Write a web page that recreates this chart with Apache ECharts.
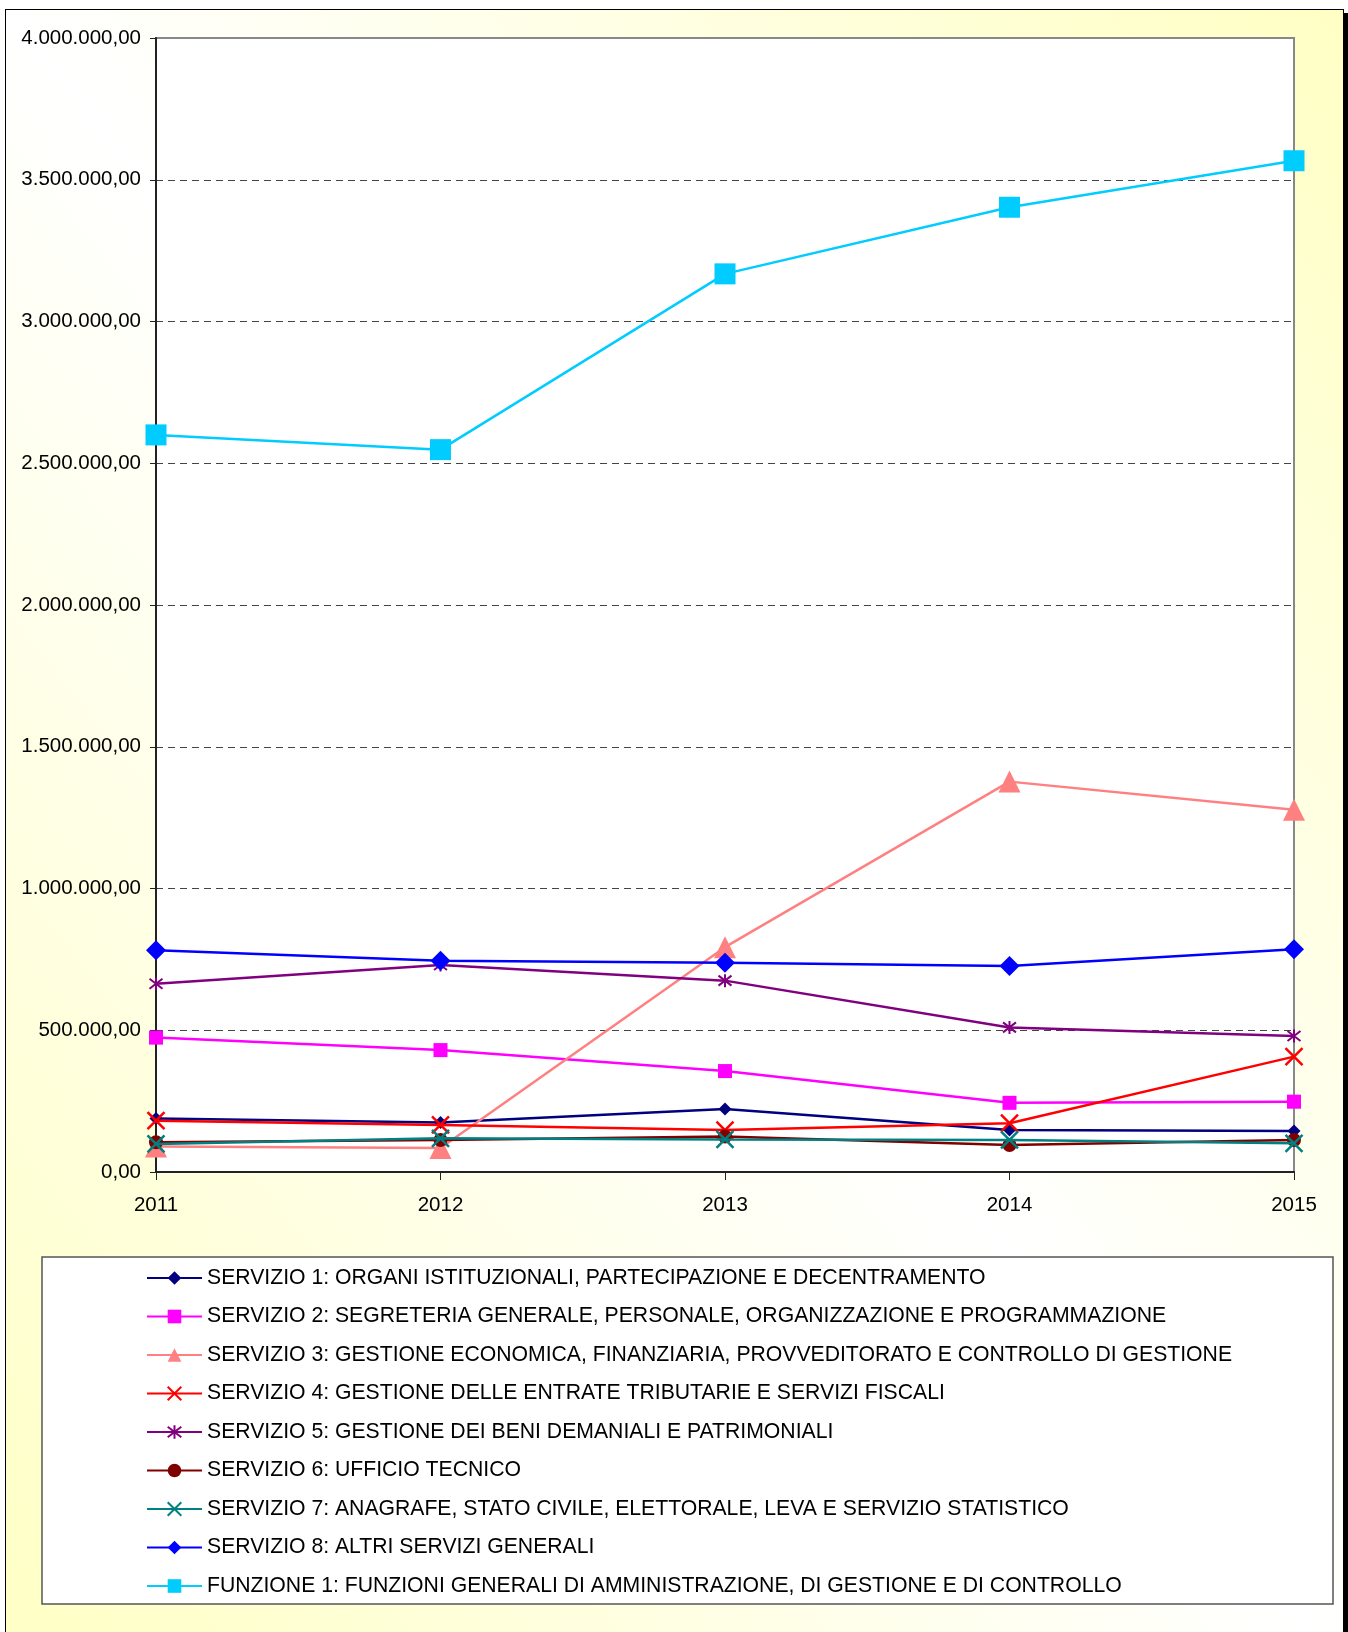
<!DOCTYPE html>
<html>
<head>
<meta charset="utf-8">
<script src="https://cdn.jsdelivr.net/npm/echarts@6/dist/echarts.min.js"></script>
<style>
  html, body { margin: 0; padding: 0; width: 1348px; height: 1632px; overflow: hidden; background: #ffffff; }
  #frame { position: absolute; left: 5px; top: 9px; width: 1337px; height: 1660px;
           border: 1.5px solid #000; box-shadow: 4px 4px 0 #000;
           background: linear-gradient(to top right, #ffffc4 0%, #ffffff 50%, #ffffc4 100%); }
  #chart { position: absolute; left: 0; top: 0; width: 1348px; height: 1632px; }
</style>
</head>
<body>
<div id="frame"></div>
<div id="chart"></div>
<script>
// ---- data ----
const years = ['2011', '2012', '2013', '2014', '2015'];
const names = [
  'SERVIZIO 1: ORGANI ISTITUZIONALI, PARTECIPAZIONE E DECENTRAMENTO',
  'SERVIZIO 2: SEGRETERIA GENERALE, PERSONALE, ORGANIZZAZIONE E PROGRAMMAZIONE',
  'SERVIZIO 3: GESTIONE ECONOMICA, FINANZIARIA, PROVVEDITORATO E CONTROLLO DI GESTIONE',
  'SERVIZIO 4: GESTIONE DELLE ENTRATE TRIBUTARIE E SERVIZI FISCALI',
  'SERVIZIO 5: GESTIONE DEI BENI DEMANIALI E PATRIMONIALI',
  'SERVIZIO 6: UFFICIO TECNICO',
  'SERVIZIO 7: ANAGRAFE, STATO CIVILE, ELETTORALE, LEVA E SERVIZIO STATISTICO',
  'SERVIZIO 8: ALTRI SERVIZI GENERALI',
  'FUNZIONE 1: FUNZIONI GENERALI DI AMMINISTRAZIONE, DI GESTIONE E DI CONTROLLO'
];
const servizio1 = [189000, 175000, 222000, 148000, 145000];
const servizio2 = [474000, 430000, 356000, 244000, 248000];
const servizio3 = [90000, 85000, 793000, 1377000, 1278000];
const servizio4 = [181000, 166000, 148000, 172000, 407000];
const servizio5 = [664000, 730000, 675000, 510000, 480000];
const servizio6 = [105000, 113000, 125000, 95000, 113000];
const servizio7 = [99000, 119000, 115000, 113000, 101000];
const servizio8 = [782000, 745000, 738000, 727000, 786000];
const funzione1 = [2600000, 2548000, 3168000, 3403000, 3567000];
const yMin = 0, yMax = 4000000, yStep = 500000;

// ---- styles ----
const FONT = "'Liberation Sans', Arial, sans-serif";
const X_PATH = 'path://M0,0L10,10M10,0L0,10';
const STAR_PATH = 'path://M0,0L10,10M10,0L0,10M5,-1.5L5,11.5';
const styles = [
  { color: '#000080', symbol: 'diamond', size: 13, stroke: 0 },
  { color: '#ff00ff', symbol: 'rect', size: 14, stroke: 0 },
  { color: '#ff8080', symbol: 'triangle', size: 22, stroke: 0 },
  { color: '#ff0000', symbol: X_PATH, size: 17, stroke: 2.5 },
  { color: '#800080', symbol: STAR_PATH, size: 13, stroke: 2 },
  { color: '#800000', symbol: 'circle', size: 14, stroke: 0 },
  { color: '#008080', symbol: X_PATH, size: 17, stroke: 2.5 },
  { color: '#0000ff', symbol: 'diamond', size: 20, stroke: 0 },
  { color: '#00ccff', symbol: 'rect', size: 21, stroke: 0 }
];
const values = [servizio1, servizio2, servizio3, servizio4, servizio5, servizio6, servizio7, servizio8, funzione1];

function fmt(v) {
  const s = Math.round(v).toString().replace(/\B(?=(\d{3})+(?!\d))/g, '.');
  return s + ',00';
}

const series = values.map((d, i) => ({
  name: names[i],
  type: 'line',
  data: d,
  symbol: styles[i].symbol,
  symbolSize: styles[i].size,
  lineStyle: { color: styles[i].color, width: 2.5 },
  itemStyle: { color: styles[i].color, borderColor: styles[i].color, borderWidth: styles[i].stroke },
  emphasis: { disabled: true },
  z: 2 + i
}));

const chart = echarts.init(document.getElementById('chart'), null, { renderer: 'canvas' });
chart.setOption({
  animation: false,
  backgroundColor: 'transparent',
  textStyle: { fontFamily: FONT },
  graphic: [{
    type: 'rect', z: 0,
    shape: { x: 42, y: 1257, width: 1291, height: 347 },
    style: { fill: '#ffffff', stroke: '#555555', lineWidth: 1.5 }
  }],
  grid: {
    left: 156, top: 38, width: 1138, height: 1134,
    show: true, backgroundColor: '#ffffff', borderColor: '#888888', borderWidth: 2
  },
  xAxis: {
    type: 'category', data: years, boundaryGap: false,
    axisLine: { lineStyle: { color: '#222', width: 2 } },
    axisTick: { show: true, length: 8, lineStyle: { color: '#222', width: 1 } },
    axisLabel: { color: '#000', fontSize: 20.5, fontFamily: FONT, margin: 23 },
    splitLine: { show: false }
  },
  yAxis: {
    type: 'value', min: yMin, max: yMax, interval: yStep,
    axisLine: { show: true, lineStyle: { color: '#222', width: 2 } },
    axisTick: { show: true, length: 6, lineStyle: { color: '#222', width: 1 } },
    axisLabel: { color: '#000', fontSize: 20.5, fontFamily: FONT, margin: 15, formatter: fmt },
    splitLine: { show: true, showMinLine: false, showMaxLine: false,
                 lineStyle: { color: '#444', width: 1, type: [7, 5] } }
  },
  legend: {
    orient: 'vertical', left: 146, top: 1267.5,
    itemWidth: 55, itemHeight: 17, itemGap: 17.5,
    padding: 0,
    textStyle: { color: '#000', fontSize: 21.2, fontFamily: FONT },
    data: names
  },
  series: series
});
</script>
</body>
</html>
